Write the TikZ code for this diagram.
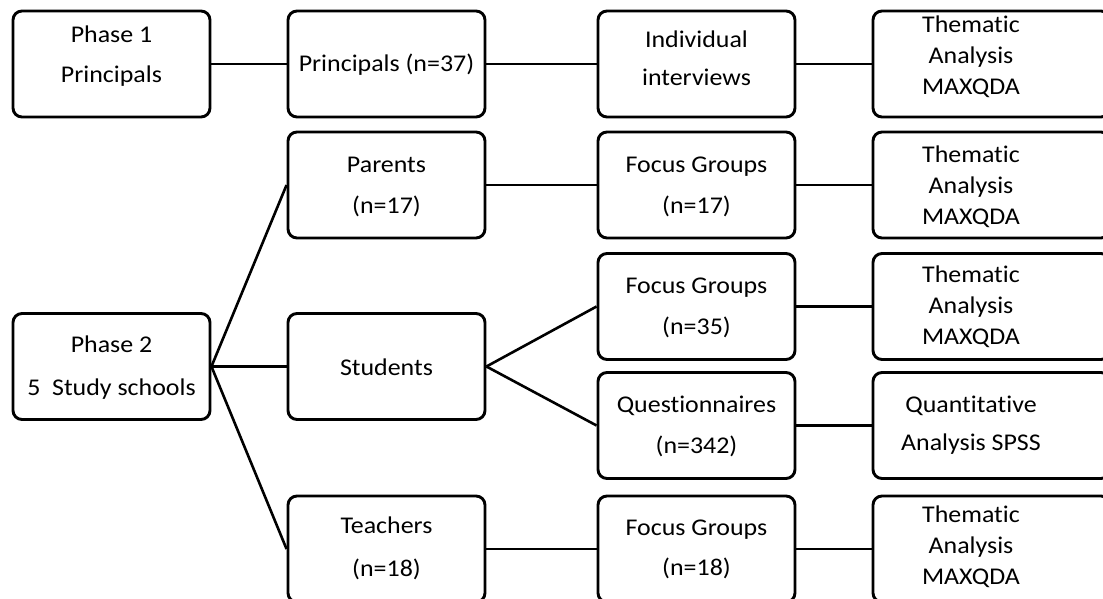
\documentclass[tikz,border=0pt]{standalone}
\usepackage{fontspec}
\setmainfont{Carlito}[FakeStretch=1.08, Ligatures={NoCommon}]
\newcommand\nolig{\kern0pt }
\begin{document}
\begin{tikzpicture}[x=1pt,y=-1pt,
  box/.style={draw, line width=2.9pt, rounded corners=9pt, fill=white, inner sep=0pt,
              minimum width=197pt, minimum height=106pt},
  wbox/.style={box, minimum width=237pt},
  link/.style={line width=2.6pt},
  txt/.style={anchor=base, inner sep=0pt, font=\fontsize{24}{24}\selectfont}]
\useasboundingbox (0,0) rectangle (1103,598);
% boxes
\node[box]  (ph1)  at (111.5,64) {};
\node[box]  (pr)   at (386.5,64) {};
\node[box]  (ind)  at (696.5,64) {};
\node[wbox] (th0)  at (991.5,64) {};
\node[box]  (par)  at (386.5,185) {};
\node[box]  (fg17) at (696.5,185) {};
\node[wbox] (th1)  at (991.5,185) {};
\node[box]  (fg35) at (696.5,306.5) {};
\node[wbox] (th2)  at (991.5,306.5) {};
\node[box]  (ph2)  at (111.5,366.5) {};
\node[box]  (stu)  at (386.5,366.5) {};
\node[box]  (q)    at (696.5,425.5) {};
\node[wbox] (qa)   at (991.5,425.5) {};
\node[box]  (tea)  at (386.5,549) {};
\node[box]  (fg18) at (696.5,549) {};
\node[wbox] (th4)  at (991.5,549) {};
% connectors
\draw[link] (ph1.east) -- (pr.west);
\draw[link] (pr.east) -- (ind.west);
\draw[link] (ind.east) -- (th0.west);
\draw[link] (ph2.east) -- (par.west);
\draw[link] (ph2.east) -- (stu.west);
\draw[link] (ph2.east) -- (tea.west);
\draw[link] (par.east) -- (fg17.west);
\draw[link] (fg17.east) -- (th1.west);
\draw[link] (stu.east) -- (fg35.west);
\draw[link] (stu.east) -- (q.west);
\draw[link] (fg35.east) -- (th2.west);
\draw[link] (q.east) -- (qa.west);
\draw[link] (tea.east) -- (fg18.west);
\draw[link] (fg18.east) -- (th4.west);
% texts
\node[txt] (t1a) at (111.5,42) {Phase 1};
\node[txt] (t1b) at (111.5,82) {Principals};
\node[txt] (t2)  at (386.5,71) {Principals (n=37)};
\node[txt] (t3a) at (696.5,47) {Individual};
\node[txt] (t3b) at (696.5,85) {interviews};
\node[txt] (t4a) at (971,32) {Themat\nolig ic};
\node[txt] (t4b) at (971,63) {Analysis};
\node[txt] (t4c) at (971,94) {MAXQDA};
\node[txt] (t5a) at (386.5,172) {Parents};
\node[txt] (t5b) at (386.5,213) {(n=17)};
\node[txt] (t6a) at (696.5,172) {Focus Groups};
\node[txt] (t6b) at (696.5,213) {(n=17)};
\node[txt] (t7a) at (971,162) {Themat\nolig ic};
\node[txt] (t7b) at (971,193) {Analysis};
\node[txt] (t7c) at (971,224) {MAXQDA};
\node[txt] (t8a) at (696.5,293) {Focus Groups};
\node[txt] (t8b) at (696.5,334) {(n=35)};
\node[txt] (t9a) at (971,282) {Themat\nolig ic};
\node[txt] (t9b) at (971,313) {Analysis};
\node[txt] (t9c) at (971,344) {MAXQDA};
\node[txt] (t10a) at (111.5,352) {Phase 2};
\node[txt] (t10b) at (111.5,395) {5\ \ Study schools};
\node[txt] (t11) at (386.5,375) {Students};
\node[txt] (t12a) at (696.5,412) {Questionnaires};
\node[txt] (t12b) at (696.5,453) {(n=342)};
\node[txt] (t13a) at (971,412) {Quant\nolig it\nolig at\nolig ive};
\node[txt] (t13b) at (971,450) {Analysis SPSS};
\node[txt] (t14a) at (386.5,533) {Teachers};
\node[txt] (t14b) at (386.5,576) {(n=18)};
\node[txt] (t15a) at (696.5,535) {Focus Groups};
\node[txt] (t15b) at (696.5,575) {(n=18)};
\node[txt] (t16a) at (971,522) {Themat\nolig ic};
\node[txt] (t16b) at (971,553) {Analysis};
\node[txt] (t16c) at (971,584) {MAXQDA};
\end{tikzpicture}
\end{document}
